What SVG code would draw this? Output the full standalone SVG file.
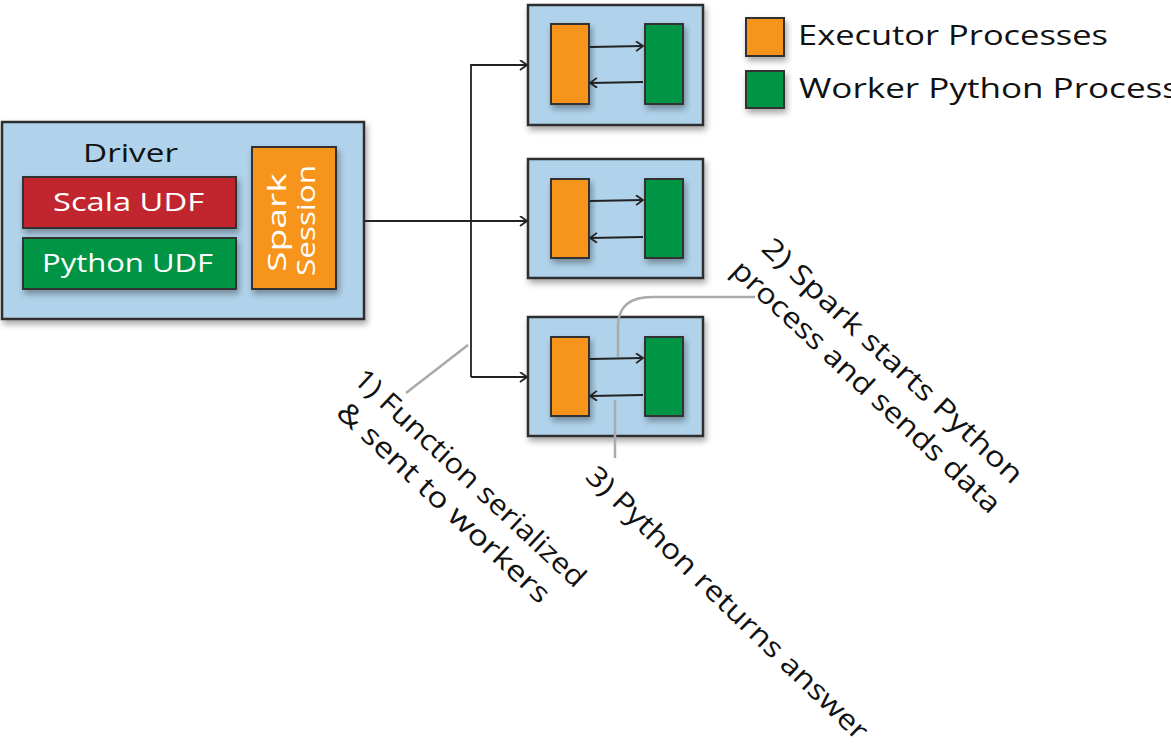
<svg xmlns="http://www.w3.org/2000/svg" width="1171" height="747" viewBox="0 0 1171 747">
<defs>
<filter id="sh" x="-20%" y="-20%" width="140%" height="150%">
<feDropShadow dx="2" dy="4" stdDeviation="3" flood-color="#000" flood-opacity="0.35"/>
</filter>
<marker id="ah" markerUnits="userSpaceOnUse" markerWidth="12" markerHeight="12" refX="8" refY="5.5" orient="auto">
<path d="M1,0.5 L8,5.5 L1,10.5" fill="none" stroke="#222" stroke-width="1.8"/>
</marker>
</defs>
<style>
.box{fill:#b0d2ea;stroke:#2e2e2e;stroke-width:2.5;filter:url(#sh)}
.org{fill:#f7941e;stroke:#333;stroke-width:2;filter:url(#sh)}
.grn{fill:#009444;stroke:#333;stroke-width:2;filter:url(#sh)}
.red{fill:#c1272d;stroke:#333;stroke-width:2;filter:url(#sh)}
.t{font-family:"Open Sans","DejaVu Sans",sans-serif;font-size:26px;fill:#111}
.w{fill:#fff}
.lbl{font-family:"Open Sans","DejaVu Sans",sans-serif;font-size:28px;fill:#111}
.cn{fill:none;stroke:#222;stroke-width:1.8}
.gr{fill:none;stroke:#aaa;stroke-width:2.5}
</style>
<rect width="1171" height="747" fill="#fff"/>

<g id="driver">
<rect class="box" x="2" y="122" width="362" height="197"/>
<text class="t" x="83" y="162" textLength="95" lengthAdjust="spacingAndGlyphs">Driver</text>
</g>
<g id="scala-udf">
<rect class="red" x="23" y="177" width="213" height="51"/>
<text class="t w" x="53" y="211" textLength="151" lengthAdjust="spacingAndGlyphs">Scala UDF</text>
</g>
<g id="python-udf">
<rect class="grn" x="23" y="238" width="213" height="51"/>
<text class="t w" x="42" y="272" textLength="171" lengthAdjust="spacingAndGlyphs">Python UDF</text>
</g>
<g id="spark-session">
<rect class="org" x="252" y="147" width="84" height="142"/>
<text class="t w" transform="translate(286,272) rotate(-90)" textLength="99" lengthAdjust="spacingAndGlyphs">Spark</text>
<text class="t w" transform="translate(315,276) rotate(-90)" textLength="111" lengthAdjust="spacingAndGlyphs">Session</text>
</g>

<g id="executor-1">
<rect class="box" x="528" y="5" width="175" height="120"/>
<rect class="org" x="551" y="24" width="38" height="80"/>
<rect class="grn" x="645" y="24" width="38" height="80"/>
</g>
<g id="executor-2">
<rect class="box" x="528" y="159" width="175" height="119"/>
<rect class="org" x="551" y="179" width="38" height="79"/>
<rect class="grn" x="645" y="179" width="38" height="79"/>
</g>
<g id="executor-3">
<rect class="box" x="528" y="317" width="175" height="119"/>
<rect class="org" x="551" y="337" width="38" height="79"/>
<rect class="grn" x="645" y="337" width="38" height="79"/>
</g>

<g id="legend">
<rect class="org" x="746" y="18" width="38" height="38"/>
<text class="lbl" x="798" y="45" textLength="310" lengthAdjust="spacingAndGlyphs">Executor Processes</text>
<rect class="grn" x="746" y="71" width="38" height="37"/>
<text class="lbl" x="799" y="98" textLength="380" lengthAdjust="spacingAndGlyphs">Worker Python Process</text>
</g>

<g id="connectors">
<path class="cn" d="M364,221 L527,221" marker-end="url(#ah)"/>
<path class="cn" d="M471,377 L471,65 L527,65" marker-end="url(#ah)"/>
<path class="cn" d="M471,377 L527,377" marker-end="url(#ah)"/>
<path class="cn" d="M590,47 L643,46" marker-end="url(#ah)"/>
<path class="cn" d="M643,82 L590,83" marker-end="url(#ah)"/>
<path class="cn" d="M590,201 L643,200" marker-end="url(#ah)"/>
<path class="cn" d="M643,237 L590,238" marker-end="url(#ah)"/>
<path class="cn" d="M590,359 L643,358" marker-end="url(#ah)"/>
<path class="cn" d="M643,395 L590,396" marker-end="url(#ah)"/>
<path class="gr" d="M468,345 L406,393"/>
<path class="gr" d="M755,297 L652,297 Q619,297 618,325 L618,357"/>
<path class="gr" d="M615,400 L615,458"/>
</g>

<g id="labels">
<text class="lbl" transform="translate(352,381) rotate(43)"><tspan x="0" y="0" textLength="305" lengthAdjust="spacingAndGlyphs">1) Function serialized</tspan><tspan x="10" y="36" textLength="280" lengthAdjust="spacingAndGlyphs">&amp; sent to workers</tspan></text>
<text class="lbl" transform="translate(760,250) rotate(43)"><tspan x="0" y="0" textLength="345" lengthAdjust="spacingAndGlyphs">2) Spark starts Python</tspan><tspan x="-7" y="37" textLength="356" lengthAdjust="spacingAndGlyphs">process and sends data</tspan></text>
<text class="lbl" transform="translate(584,478) rotate(44)" textLength="380" lengthAdjust="spacingAndGlyphs">3) Python returns answer</text>
</g>
</svg>
